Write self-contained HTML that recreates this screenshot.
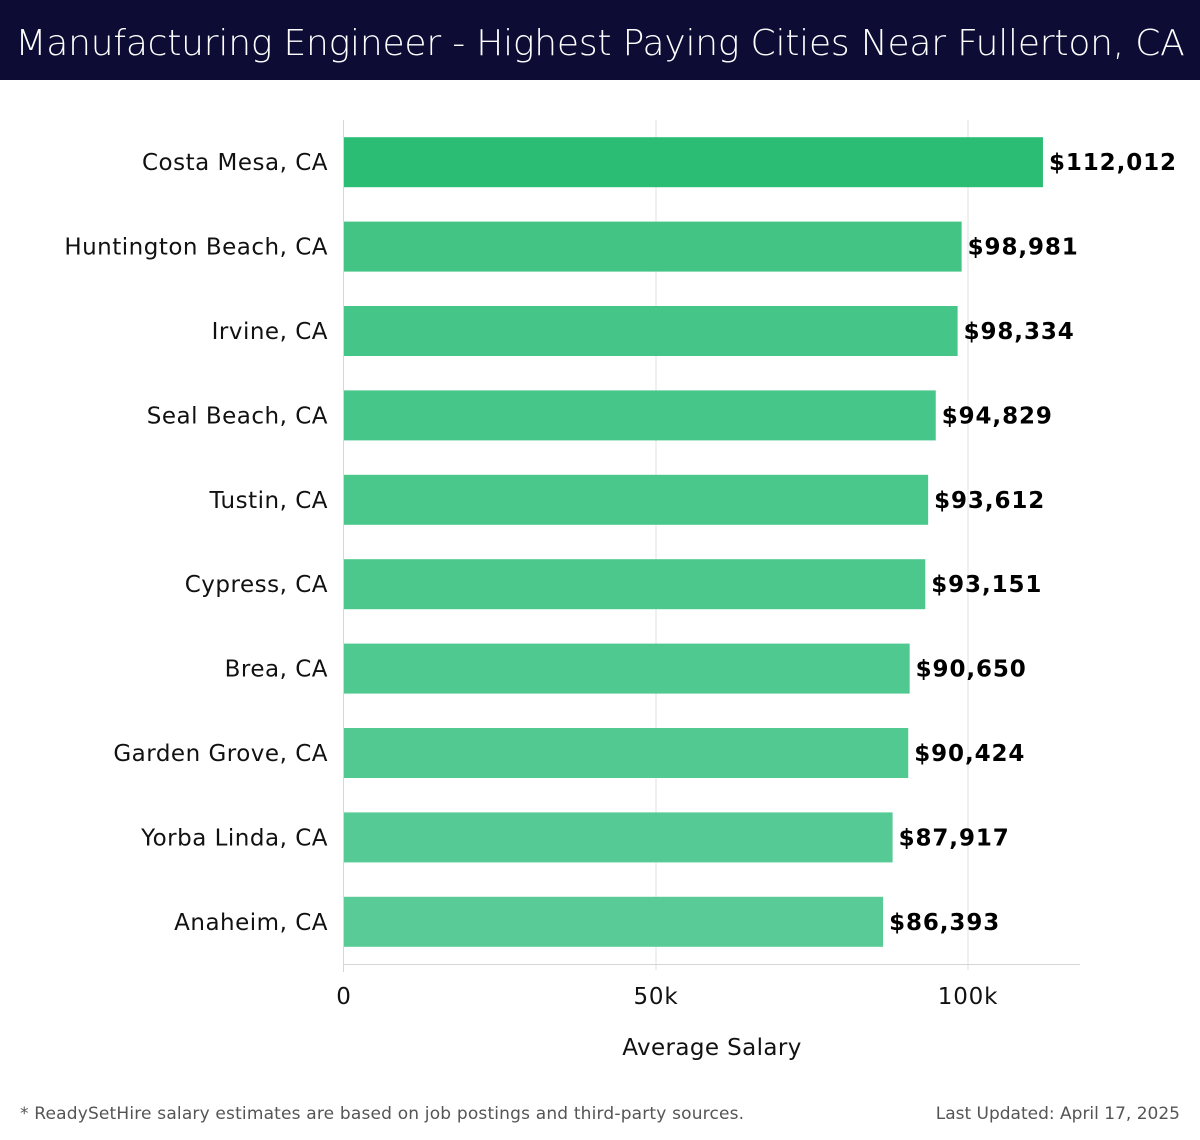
<!DOCTYPE html>
<html><head><meta charset="utf-8"><style>
body{margin:0;width:1200px;height:1140px;background:#fff;font-family:"DejaVu Sans","Liberation Sans",sans-serif;overflow:hidden}
#hdr{position:absolute;left:0;top:0;width:1200px;height:80px;background:#0c0c35;color:#fff;font-size:36px;line-height:88px;text-align:center;white-space:nowrap;font-family:"DejaVu Sans","Liberation Sans",sans-serif;font-weight:300;letter-spacing:-0.2px}
svg{position:absolute;left:0;top:0;font-family:"DejaVu Sans","Liberation Sans",sans-serif}
</style></head><body>
<div id="hdr">Manufacturing Engineer - Highest Paying Cities Near Fullerton, CA</div>
<svg id="chart" width="1200" height="1140"></svg>
<script>
const categories=["Costa Mesa, CA","Huntington Beach, CA","Irvine, CA","Seal Beach, CA","Tustin, CA","Cypress, CA","Brea, CA","Garden Grove, CA","Yorba Linda, CA","Anaheim, CA"];
const salaries=[112012,98981,98334,94829,93612,93151,90650,90424,87917,86393];
const valueLabels=["$112,012","$98,981","$98,334","$94,829","$93,612","$93,151","$90,650","$90,424","$87,917","$86,393"];
const tickValues=[0,50000,100000];
const tickLabels=["0","50k","100k"];
const colors=["#2cbd75","#43c485","#45c587","#47c689","#4ac78b","#4cc88d","#4fc98f","#51c991","#55ca94","#58cb96"];
const NS="http://www.w3.org/2000/svg";
const svg=document.getElementById('chart');
const x0=344,pxPer=6.24/1000,top0=120,band=84.4,barH=50;
const xs=v=>x0+v*pxPer;
const yc=i=>top0+band*i+band/2;
function mk(t,a,txt){const e=document.createElementNS(NS,t);for(const k in a)e.setAttribute(k,a[k]);if(txt!=null)e.textContent=txt;svg.appendChild(e);return e;}
tickValues.forEach((v,i)=>{
 if(v>0){const g=mk('line',{x1:xs(v),x2:xs(v),y1:top0,y2:970,stroke:'#e2e2e2','stroke-width':1});
 
 }
 const t=mk('text',{x:xs(v),y:1004,'text-anchor':'middle','font-size':23,'letter-spacing':0.8,fill:'#111'},tickLabels[i]);
 
 
});
const ax=mk('line',{x1:x0,x2:1080,y1:964.5,y2:964.5,stroke:'#d6d6d6','stroke-width':1});


const ay=mk('line',{x1:x0-0.5,x2:x0-0.5,y1:top0,y2:972,stroke:'#d6d6d6','stroke-width':1});


categories.forEach((c,i)=>{
 const y=yc(i);
 const r=mk('rect',{x:x0,y:y-barH/2,width:xs(salaries[i])-x0,height:barH,fill:colors[i]});
 
 
 const l=mk('text',{x:328,y:y+8,'text-anchor':'end','font-size':23,'letter-spacing':0.5,fill:'#111'},c);
 
 
 const v=mk('text',{x:xs(salaries[i])+6,y:y+8,'font-size':23,'font-weight':'bold','letter-spacing':0.9,fill:'#000'},valueLabels[i]);
 
 
});
const xt=mk('text',{x:712,y:1055,'text-anchor':'middle','font-size':23,'letter-spacing':0.4,fill:'#111'},'Average Salary');


const f1=mk('text',{x:20,y:1119,'font-size':17,'letter-spacing':0.18,fill:'#555'},'* ReadySetHire salary estimates are based on job postings and third-party sources.');


const f2=mk('text',{x:1180,y:1119,'text-anchor':'end','font-size':17,fill:'#555'},'Last Updated: April 17, 2025');


</script>
</body></html>
